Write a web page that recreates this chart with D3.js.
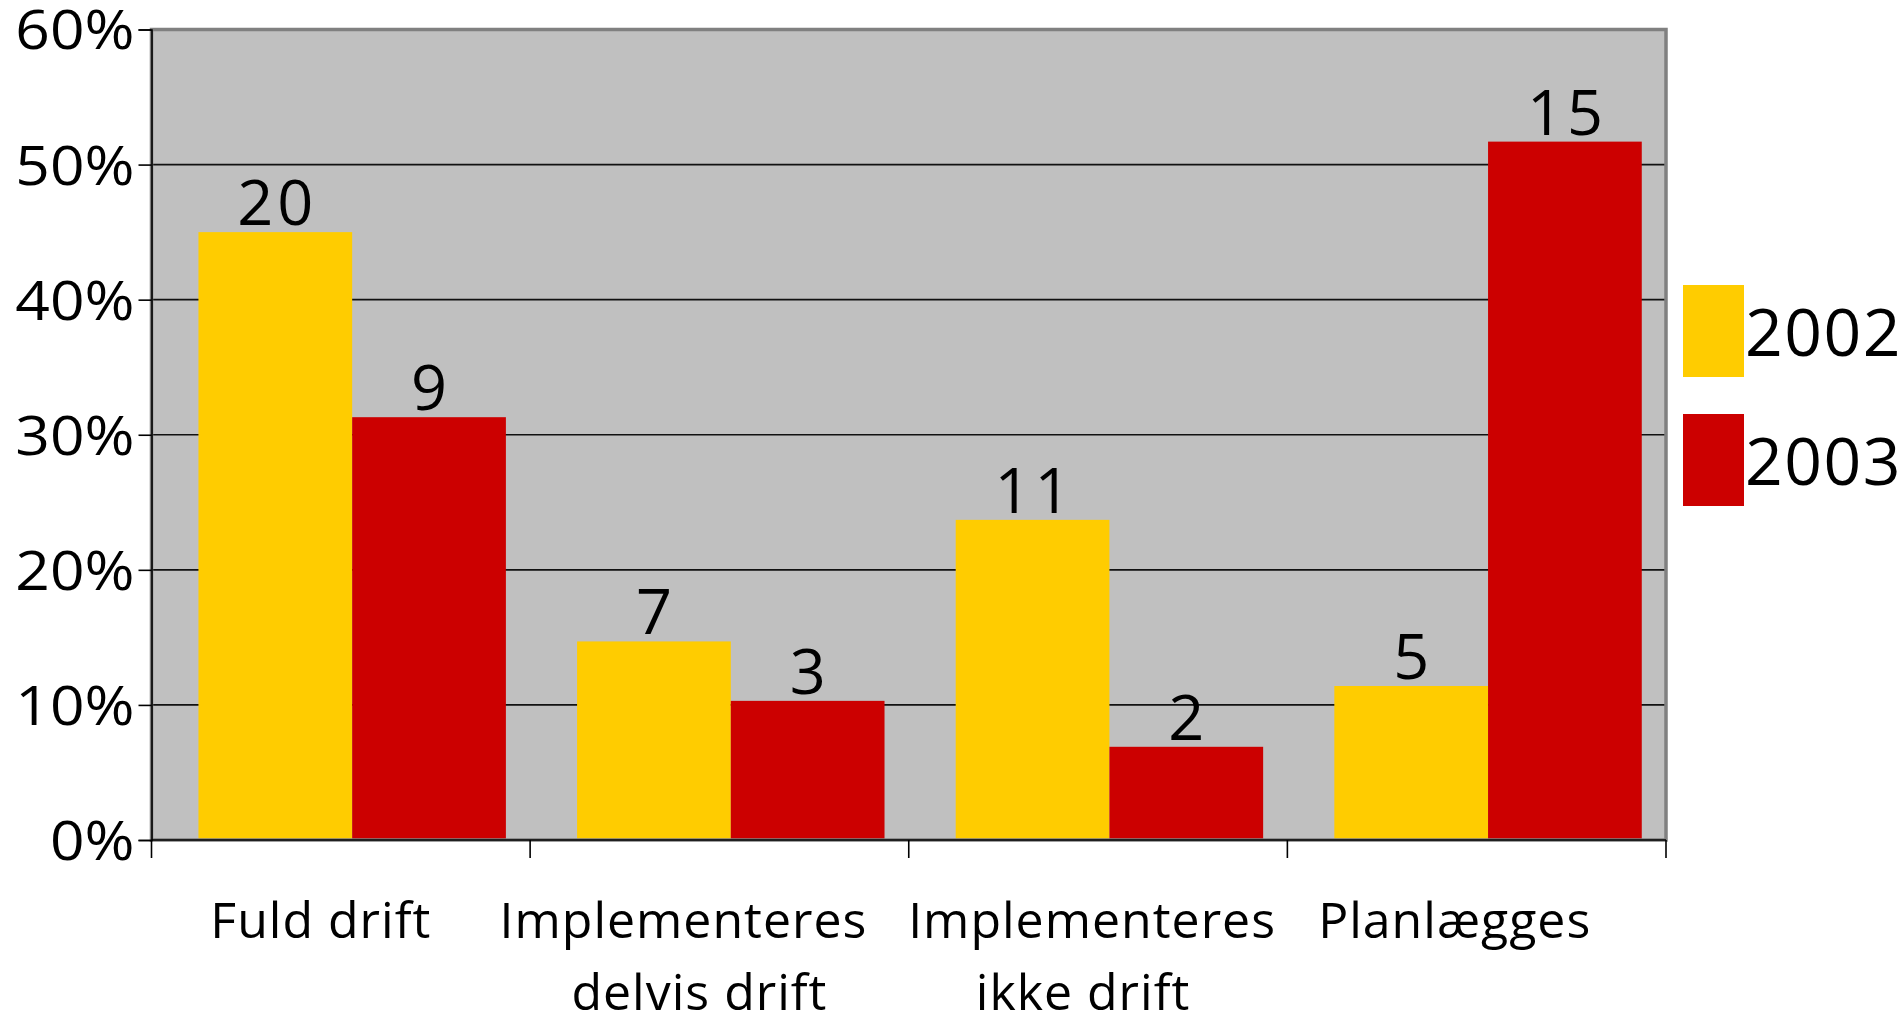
<!DOCTYPE html>
<html>
<head>
<meta charset="utf-8">
<script src="https://cdn.jsdelivr.net/npm/d3@7"></script>
<style>
  html, body { margin:0; padding:0; background:#fff; }
  svg text { font-family:"Open Sans", sans-serif; fill:#000; }
</style>
</head>
<body>
<div id="plot" style="width:1900px;height:1014px;"></div>
<script>
// data
var categories = [["Fuld drift"], ["Implementeres","delvis drift"], ["Implementeres","ikke drift"], ["Planlægges"]];
var series = ["2002", "2003"];
var share2002 = [0.450, 0.147, 0.237, 0.114];   // bar height (share)
var share2003 = [0.313, 0.103, 0.069, 0.517];
var count2002 = [20, 7, 11, 5];                  // label on top of bar
var count2003 = [9, 3, 2, 15];
var yTicks = [0, 0.1, 0.2, 0.3, 0.4, 0.5, 0.6];
var colors = ["#ffcc00", "#cc0000"];
// the two long first lines are pushed apart a little in the original
var labelNudge = [[0], [-16, 0], [14, 5], [-2]];

//drawing area
var margin = {t:29.5, r:234, b:174, l:151.5};
var W = 1900, H = 1014;
var width = W - margin.l - margin.r,
    height = H - margin.t - margin.b;

var svg = d3.select('#plot').append('svg')
    .attr('width', W)
    .attr('height', H);
var plot = svg.append('g')
    .attr('transform', 'translate(' + margin.l + ',' + margin.t + ')');

var catKeys = categories.map(function(c){ return c.join(' '); });

var x = d3.scaleBand().domain(catKeys).range([0, width]).padding(0);
// bars sit a bit left of centre inside each category, like the original
var x1 = d3.scaleBand().domain(series).range([x.bandwidth()*0.124, x.bandwidth()*0.936]);
var y = d3.scaleLinear().domain([0, 0.6]).range([height, 0]);

// background
plot.append('rect')
    .attr('width', width)
    .attr('height', height)
    .style('fill', '#c0c0c0');

// gridlines
plot.selectAll('.grid').data(yTicks.slice(1, -1)).enter()
    .append('line')
    .attr('x1', 0).attr('x2', width)
    .attr('y1', function(d){ return y(d); })
    .attr('y2', function(d){ return y(d); })
    .style('stroke', '#111')
    .style('stroke-width', 1.6);

// rows for bars
var rows = [];
catKeys.forEach(function(c, i){
    rows.push({cat:c, s:"2002", v:share2002[i], n:count2002[i]});
    rows.push({cat:c, s:"2003", v:share2003[i], n:count2003[i]});
});

plot.selectAll('.bar').data(rows).enter()
    .append('rect')
    .attr('x', function(d){ return x(d.cat) + x1(d.s); })
    .attr('y', function(d){ return y(d.v); })
    .attr('width', x1.bandwidth())
    .attr('height', function(d){ return height - y(d.v); })
    .style('fill', function(d){ return colors[series.indexOf(d.s)]; });

plot.selectAll('.lab').data(rows).enter()
    .append('text')
    .attr('x', function(d){ return x(d.cat) + x1(d.s) + x1.bandwidth()/2 + 2; })
    .attr('y', function(d){ return y(d.v) - 7; })
    .attr('text-anchor', 'middle')
    .style('font-size', '63px')
    .style('letter-spacing', '4px')
    .text(function(d){ return d.n; });

// frame
plot.append('rect')
    .attr('width', width)
    .attr('height', height)
    .style('fill', 'none')
    .style('stroke', '#808080')
    .style('stroke-width', 3.5);

// y axis
var yAxis = plot.append('g')
    .call(d3.axisLeft(y).tickValues(yTicks).tickFormat(d3.format('.0%')).tickSize(13).tickPadding(4));
yAxis.select('.domain').style('stroke', '#000').style('stroke-width', 1.6);
yAxis.selectAll('.tick line').style('stroke', '#000').style('stroke-width', 1.6);
yAxis.selectAll('.tick text')
    .style('font-size', '54px')
    .style('font-family', '"Open Sans", sans-serif')
    .attr('dy', '0.36em')
    .each(function(){
        // glyphs in the original are a bit wider than Open Sans
        var w = this.getComputedTextLength();
        d3.select(this).attr('textLength', w*1.12).attr('lengthAdjust', 'spacingAndGlyphs');
    });

// x axis line and ticks on category borders
plot.append('line')
    .attr('x1', 0).attr('x2', width)
    .attr('y1', height).attr('y2', height)
    .style('stroke', '#000').style('stroke-width', 1.6);
var xTickPos = catKeys.map(function(c){ return x(c); }).concat([width]);
plot.selectAll('.xt').data(xTickPos).enter()
    .append('line')
    .attr('x1', function(d){ return d; }).attr('x2', function(d){ return d; })
    .attr('y1', height).attr('y2', height + 18)
    .style('stroke', '#000').style('stroke-width', 1.6);

// category labels
var xl = plot.selectAll('.xl').data(categories).enter()
    .append('text')
    .attr('text-anchor', 'middle')
    .style('font-size', '50px')
    .style('letter-spacing', '1px');
xl.each(function(d, i){
    var t = d3.select(this);
    d.forEach(function(line, j){
        t.append('tspan')
            .attr('x', x(catKeys[i]) + x.bandwidth()/2 - 20 + labelNudge[i][j])
            .attr('y', height + 98 + j*72)
            .text(line);
    });
});

// legend
var legend = svg.append('g').attr('transform', 'translate(1683,285)');
series.forEach(function(s, i){
    legend.append('rect')
        .attr('x', 0).attr('y', i*129)
        .attr('width', 61).attr('height', 92)
        .style('fill', colors[i]);
    legend.append('text')
        .attr('x', 62).attr('y', i*129 + 71)
        .style('font-size', '66px')
        .style('letter-spacing', '1.5px')
        .text(s);
});
</script>
</body>
</html>
